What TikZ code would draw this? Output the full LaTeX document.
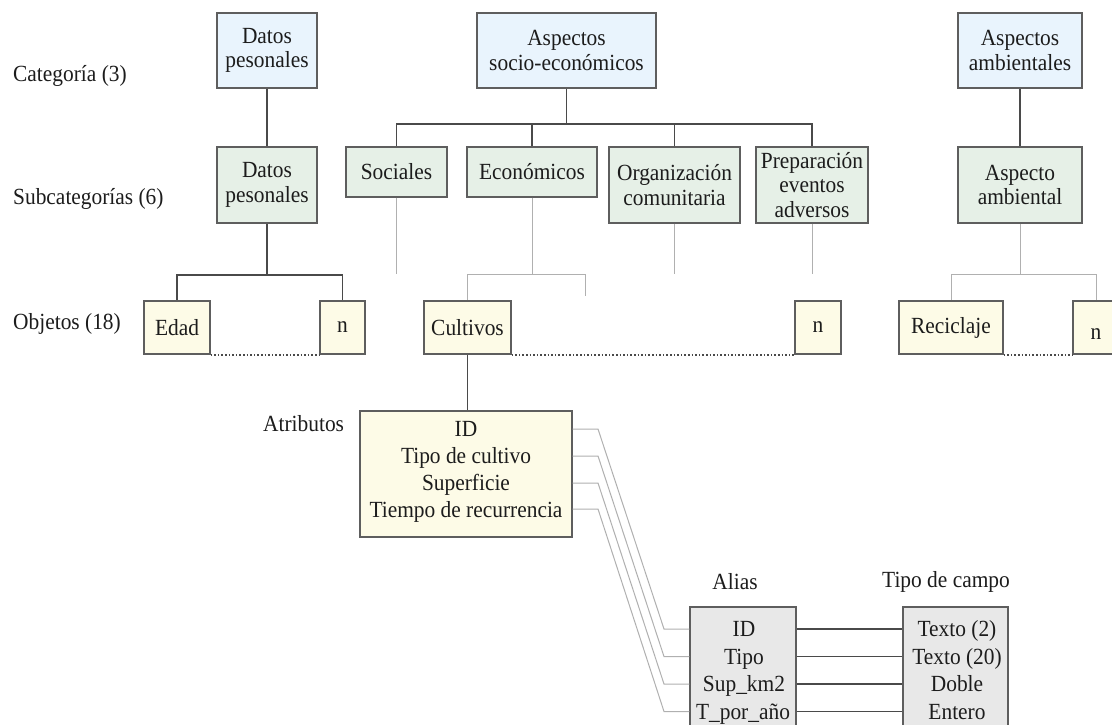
\documentclass[tikz,border=0pt]{standalone}
\usepackage{graphicx}
\usepackage{fontspec}
\setmainfont{Liberation Serif}
\newcommand{\vs}[1]{\scalebox{1}[1.08]{#1}}
\definecolor{catfill}{HTML}{E9F4FD}
\definecolor{subfill}{HTML}{E6F0E7}
\definecolor{objfill}{HTML}{FDFBE7}
\definecolor{alifill}{HTML}{E8E8E8}
\definecolor{bord}{HTML}{5E5E5E}
\definecolor{darkline}{HTML}{4A4A4A}
\definecolor{lightline}{HTML}{B0B0B0}
\definecolor{txt}{HTML}{1C1C1C}
\begin{document}
\begin{tikzpicture}[x=1pt,y=-1pt,
  every node/.style={font=\fontsize{21.4}{24.5}\selectfont, text=txt},
  box/.style={draw=bord, line width=1.3pt, inner sep=0pt, align=center},
  cat/.style={box, fill=catfill},
  sub/.style={box, fill=subfill},
  obj/.style={box, fill=objfill},
  ali/.style={box, fill=alifill},
  lbl/.style={anchor=west, inner sep=0pt},
  rowtxt/.style={anchor=base, inner sep=0pt},
  dark/.style={draw=darkline, line width=1.2pt},
  light/.style={draw=lightline, line width=1pt},
  dots/.style={draw=darkline, line width=1.7pt, dash pattern=on 1.5pt off 2.1pt}]

\useasboundingbox (0,0) rectangle (1112,724);
\clip (0,0) rectangle (1112,724);
\fill[white] (0,0) rectangle (1112,724);

% level labels
\node[lbl] (lcat) at (13,76) {\vs{Categoría (3)}};
\node[lbl] (lsub) at (13,199) {\vs{Subcategorías (6)}};
\node[lbl] (lobj) at (13,324) {\vs{Objetos (18)}};
\node[lbl] (latr) at (263,424) {\vs{Atributos}};

% categories
\node[cat, minimum width=100, minimum height=75] (catA) at (267,50.5) {\vs{Datos}\\\vs{pesonales}};
\node[cat, minimum width=179, minimum height=75] (catB) at (566.5,50.5) {\vs{Aspectos}\\\vs{socio-económicos}};
\node[cat, minimum width=124, minimum height=75] (catC) at (1020,50.5) {\vs{Aspectos}\\\vs{ambientales}};

% subcategories
\node[sub, minimum width=100, minimum height=76] (subA) at (267,185) {\vs{Datos}\\\vs{pesonales}};
\node[sub, minimum width=101, minimum height=50] (subB) at (396.5,172) {\vs{Sociales}};
\node[sub, minimum width=130, minimum height=50] (subC) at (532,172) {\vs{Económicos}};
\node[sub, minimum width=131, minimum height=76] (subD) at (674.5,185) {\vs{Organización}\\\vs{comunitaria}};
\node[sub, minimum width=112, minimum height=76] (subE) at (812,185) {\vs{Preparación}\\\vs{eventos}\\\vs{adversos}};
\node[sub, minimum width=124, minimum height=76] (subF) at (1020,185) {\vs{Aspecto}\\\vs{ambiental}};

% objects
\node[obj, minimum width=66, minimum height=53] (edad) at (177,327.5) {\vs{Edad}};
\node[obj, minimum width=45, minimum height=53] (nA) at (342.5,327.5) {\vs{n}};
\node[obj, minimum width=87, minimum height=53] (cult) at (467.5,327.5) {\vs{Cultivos}};
\node[obj, minimum width=46, minimum height=53] (nB) at (818,327.5) {\vs{n}};
\node[obj, minimum width=104, minimum height=53] (reci) at (951,327.5) {\vs{Reciclaje}};
\node[obj, minimum width=46, minimum height=53] (nC) at (1096,327.5) {};
\node[rowtxt] (nCt) at (1096,339) {\vs{n}};

% attributes box
\node[obj, minimum width=212, minimum height=126] (attr) at (466,474) {};
\node[rowtxt] (at1) at (466,436.5) {\vs{ID}};
\node[rowtxt] (at2) at (466,463.5) {\vs{Tipo de cultivo}};
\node[rowtxt] (at3) at (466,490.5) {\vs{Superficie}};
\node[rowtxt] (at4) at (466,517.5) {\vs{Tiempo de recurrencia}};

% alias and field type
\node (lali) at (735,582) {\vs{Alias}};
\node (ltip) at (946,582) {\vs{Tipo de campo}};
\node[ali, minimum width=106, minimum height=140] (alias) at (743,677) {};
\node[ali, minimum width=105, minimum height=140] (tipo) at (955.5,677) {};
\node[rowtxt] (al1) at (744,636.5) {\vs{ID}};
\node[rowtxt] (al2) at (744,664) {\vs{Tipo}};
\node[rowtxt] (al3) at (744,691.5) {\vs{Sup\_km2}};
\node[rowtxt] (al4) at (743,719) {\vs{T\_por\_año}};
\node[rowtxt] (tp1) at (957,636.5) {\vs{Texto (2)}};
\node[rowtxt] (tp2) at (957,664) {\vs{Texto (20)}};
\node[rowtxt] (tp3) at (957,691.5) {\vs{Doble}};
\node[rowtxt] (tp4) at (957,719) {\vs{Entero}};

% junction coordinates
\coordinate (jB) at (566.5,124);
\coordinate (jA) at (267,275);
\coordinate (eB) at (396.5,274);
\coordinate (jC) at (532,274);
\coordinate (eC) at (585,296);
\coordinate (eD) at (674.5,274);
\coordinate (eE) at (812,274);
\coordinate (jF) at (1020,274);

% hierarchy connectors
\draw[dark] (catA) -- (subA);
\draw[dark] (catC) -- (subF);
\draw[dark] (catB.south) -- (jB);
\draw[dark] (jB) -| (subB.north);
\draw[dark] (jB) -| (subE.north);
\draw[dark] (subC.north) -- (subC.north |- jB);
\draw[dark] (subD.north) -- (subD.north |- jB);

\draw[dark] (subA.south) -- (jA);
\draw[dark] (jA) -| (edad.north);
\draw[dark] (jA) -| (nA.north);

\draw[light] (subB.south) -- (eB);
\draw[light] (subC.south) -- (jC);
\draw[light] (jC) -| (cult.north);
\draw[light] (jC) -| (eC);
\draw[light] (subD.south) -- (eD);
\draw[light] (subE.south) -- (eE);
\draw[light] (subF.south) -- (jF);
\draw[light] (jF) -| (reci.north);
\draw[light] (jF) -| (nC.north);

% dotted continuation lines
\draw[dots] (edad.south east) -- (nA.south west);
\draw[dots] (cult.south east) -- (nB.south west);
\draw[dots] (reci.south east) -- (nC.south west);

% object to attributes
\draw[dark] (cult.south) -- (cult.south |- attr.north);

% attributes to alias
\foreach \i/\ya/\yb in {1/429/629, 2/456/656.5, 3/483/684, 4/509/711.5}{
  \coordinate (p\i) at (598,\ya);
  \coordinate (q\i) at (664,\yb);
}
\draw[light] (attr.east |- p1) -- (p1) -- (q1) -- (alias.west |- q1);
\draw[light] (attr.east |- p2) -- (p2) -- (q2) -- (alias.west |- q2);
\draw[light] (attr.east |- p3) -- (p3) -- (q3) -- (alias.west |- q3);
\draw[light] (attr.east |- p4) -- (p4) -- (q4) -- (alias.west |- q4);

% alias to field type
\draw[dark] (alias.east |- q1) -- (tipo.west |- q1);
\draw[dark] (alias.east |- q2) -- (tipo.west |- q2);
\draw[dark] (alias.east |- q3) -- (tipo.west |- q3);
\draw[dark] (alias.east |- q4) -- (tipo.west |- q4);
\end{tikzpicture}
\end{document}
